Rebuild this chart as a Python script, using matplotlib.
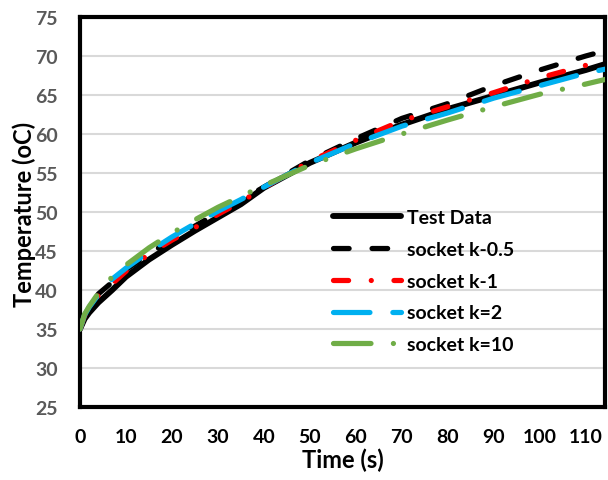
import matplotlib
matplotlib.use("Agg")
import matplotlib.pyplot as plt

plt.rcParams['font.family'] = ['Lato', 'DejaVu Sans']
plt.rcParams['font.weight'] = 'bold'

time_s = [0, 1, 2, 4, 7, 10, 15, 20, 25, 30, 35, 40, 50, 60, 70, 80, 90, 100, 110, 115]
test_data = [35.0, 36.3, 37.1, 38.4, 40.0, 41.7, 43.9, 45.8, 47.6, 49.3, 51.0, 53.1, 56.3, 58.9, 61.2, 63.2, 64.9, 66.6, 68.2, 69.1]
k_0_5 = [35.0, 36.8, 37.8, 39.5, 41.0, 42.6, 44.6, 46.5, 48.2, 49.9, 51.5, 53.2, 56.6, 59.4, 62.0, 63.9, 66.2, 68.2, 70.0, 70.8]
k_1 = [35.0, 36.7, 37.7, 39.3, 40.8, 42.4, 44.6, 46.4, 48.0, 49.7, 51.3, 53.1, 56.5, 59.2, 61.7, 63.5, 65.3, 67.2, 68.8, 69.5]
k_2 = [35.0, 36.8, 37.8, 39.4, 41.4, 42.8, 44.9, 46.8, 48.5, 50.1, 51.6, 53.2, 56.3, 58.8, 61.0, 62.7, 64.6, 66.2, 67.8, 68.4]
k_10 = [35.0, 36.9, 37.9, 39.6, 41.7, 43.2, 45.4, 47.3, 49.0, 50.6, 52.0, 53.4, 56.0, 58.1, 60.0, 61.8, 63.5, 65.1, 66.4, 67.1]

labels = ["Test Data", "socket k-0.5", "socket k-1", "socket k=2", "socket k=10"]
x_ticks = [0, 10, 20, 30, 40, 50, 60, 70, 80, 90, 100, 110]
y_ticks = [25, 30, 35, 40, 45, 50, 55, 60, 65, 70, 75]

fig = plt.figure(figsize=(6.08, 4.81), dpi=100)
ax = fig.add_axes([80/608, 1-408/481, (605-80)/608, (408-18)/481])

lw = 3.75
ax.plot(time_s, test_data, color='black', lw=4.25, solid_capstyle='round', label=labels[0], zorder=3)
ax.plot(time_s, k_0_5, color='black', lw=lw, dashes=(3.0, 4.4), dash_capstyle='round', label=labels[1], zorder=4)
ax.plot(time_s, k_1, color='#ff0000', lw=lw, dashes=(2.9, 4.35, 0.01, 4.35), dash_capstyle='round', label=labels[2], zorder=5)
ax.plot(time_s, k_2, color='#00b0f0', lw=lw, dashes=(7.0, 4.4), dash_capstyle='round', label=labels[3], zorder=6)
ax.plot(time_s, k_10, color='#70ad47', lw=lw, dashes=(7.2, 4.3, 0.01, 4.3), dash_capstyle='round', label=labels[4], zorder=7)

ax.set_xlim(0, 114.2)
ax.set_ylim(25, 75)
ax.set_xticks(x_ticks)
ax.set_yticks(y_ticks)
ax.grid(axis='y', color='#d9d9d9', lw=1.5)
ax.set_axisbelow(True)
for s in ax.spines.values():
    s.set_linewidth(3)
    s.set_color('black')
ax.tick_params(axis='both', length=0, labelsize=14)
ax.tick_params(axis='y', pad=16, labelcolor='#595959')
ax.tick_params(axis='x', pad=15, labelcolor='black')
for t in ax.get_xticklabels() + ax.get_yticklabels():
    t.set_fontweight('bold')

ax.set_xlabel("Time (s)", fontsize=17, fontweight='bold', labelpad=2)
ax.set_ylabel("Temperature (oC)", fontsize=17, fontweight='bold')
ax.yaxis.set_label_coords((36-80)/525, (408-214)/390)

leg = ax.legend(loc='upper left', bbox_to_anchor=(333/608, 1-210/481), bbox_transform=fig.transFigure,
                frameon=False, borderpad=0, borderaxespad=0, handlelength=3.5, handletextpad=0.3,
                labelspacing=0.76, prop={'size': 14, 'weight': 'bold'})

fig.savefig("out.png", dpi=100)
